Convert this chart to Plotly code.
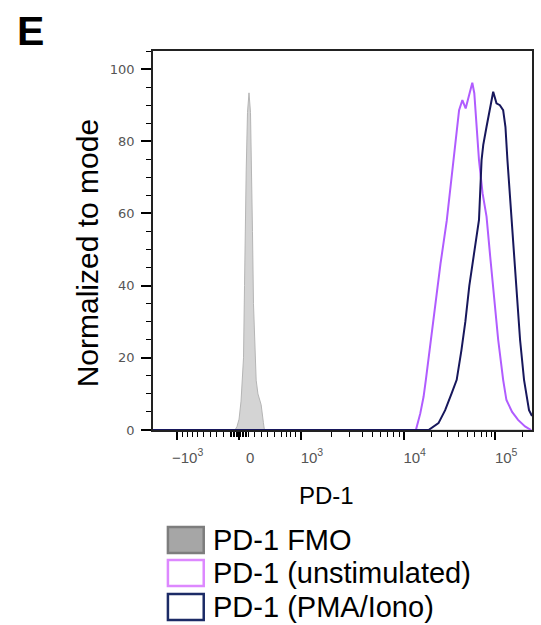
import plotly.graph_objects as go

# ---- data (x in display-channel units of the biexponential PD-1 axis, 0 = zero intensity) ----
SERIES_NAMES = ["PD-1 FMO", "PD-1 (unstimulated)", "PD-1 (PMA/Iono)"]

FMO_X = [-86.5, -4, -2, 0, 2, 3.5, 4.5, 5.5, 6.5, 7.2, 8.5, 10, 11.5, 12.8, 13.5, 14.5, 16, 17.2, 19, 22.2, 24.5, 25.5, 294.5]
FMO_Y = [0, 0, 1, 3, 8, 13.8, 20, 40, 62, 72, 88, 93.4, 88, 72, 55, 35, 20, 13.8, 10, 7, 2, 0, 0]

UNSTIM_X = [-86.5, 177.8, 182.2, 185.5, 187.8, 192.5, 197.5, 202.5, 208.8, 212.5, 215.5, 218.8, 221.2,
            224.5, 227.8, 231.5, 234.5, 236.5, 238.8, 241.2, 244.8, 248.8, 252.5, 256.5, 260.5,
            265.5, 268.8, 274.5, 280.5, 287.5, 293.5]
UNSTIM_Y = [0, 0, 4.6, 9.2, 13.9, 24, 36, 46, 58, 67, 74.8, 84, 88.6,
            91.4, 89.1, 93, 96.2, 93.3, 84, 74.8, 65.6, 59.1, 48, 36, 25,
            13.9, 8.3, 5, 2.8, 1, 0]

PMA_X = [-86.5, 190.5, 200.5, 207.2, 213.8, 218.8, 223.5, 227.5, 231.5, 235.5, 238.5, 241.2, 243.8,
         245.5, 248.8, 252.2, 255.5, 258.8, 262.2, 265.5, 267.8, 269.8, 272.2, 273.8, 276.5,
         279.5, 282.5, 286.5, 289.5, 291.5, 294.5]
PMA_Y = [0, 0, 1.9, 5.5, 10.2, 13.9, 22, 30, 40, 48, 53, 58.2, 74.8,
         79, 84, 88.6, 93.7, 90.5, 90, 88.6, 84, 74.8, 65.6, 58.2, 48,
         36, 25, 13.9, 8.9, 5.5, 3.9]

X_TICK_POS = [-62.8, 0, 62.2, 165.5, 257.5]
X_TICK_TEXT = ["\u221210<sup>3</sup>", "0", "10<sup>3</sup>", "10<sup>4</sup>", "10<sup>5</sup>"]
X_MINOR_POS = ([-57.2, -52.2, -47.2, -42.2, -35.5, -28.8, -22.2, -15.5]
               + [-9, -7.5, -6, -4.5, -3, -1.5, 0, 1.5, 3, 4.5, 6, 7.5, 9]
               + [15.5, 22.2, 28.8, 35.5, 42.2, 47.2, 52.2, 57.2]
               + [93.3, 111.5, 124.4, 134.4, 142.6, 149.5, 155.5, 160.8]
               + [193.2, 209.4, 220.9, 229.8, 237.1, 243.3, 248.6, 253.3]
               + [285.2])
X_RANGE = [-86.5, 294.5]

Y_TICKS = [0, 20, 40, 60, 80, 100]
Y_RANGE = [0, 105]

COLORS = {"fmo_fill": "#d4d4d4", "fmo_line": "#b5b5b5", "unstim": "#b05cff", "pma": "#17175c"}

W, H = 541, 625
ML, MR, MT, MB = 153, 7, 51, 195
PW, PH = W - ML - MR, H - MT - MB


def px(xp):
    return (xp - ML) / PW


def py(yp):
    return (H - MB - yp) / PH


fig = go.Figure()
fig.add_trace(go.Scatter(x=FMO_X, y=FMO_Y, mode="lines", fill="tozeroy",
                         fillcolor=COLORS["fmo_fill"],
                         line=dict(color=COLORS["fmo_line"], width=1), showlegend=False))
fig.add_trace(go.Scatter(x=UNSTIM_X, y=UNSTIM_Y, mode="lines",
                         line=dict(color=COLORS["unstim"], width=2), showlegend=False))
fig.add_trace(go.Scatter(x=PMA_X, y=PMA_Y, mode="lines",
                         line=dict(color=COLORS["pma"], width=2), showlegend=False))

fig.update_layout(
    width=W, height=H, autosize=False,
    margin=dict(l=ML, r=MR, t=MT, b=MB),
    paper_bgcolor="white", plot_bgcolor="white",
    font=dict(family="Liberation Sans, Arial, sans-serif", color="black"),
    xaxis=dict(range=X_RANGE, tickmode="array", tickvals=X_TICK_POS, ticktext=X_TICK_TEXT,
               ticks="outside", ticklen=8, tickwidth=2, tickcolor="black",
               showline=True, linecolor="#222", linewidth=1.5, mirror=True,
               showgrid=False, zeroline=False, layer="below traces",
               tickfont=dict(family="Liberation Sans, Arial, sans-serif", size=15, color="#555"),
               ticklabelshift=11, ticklabelstandoff=5,
               minor=dict(tickmode="array", tickvals=X_MINOR_POS, ticks="outside",
                          ticklen=5, tickwidth=1, tickcolor="black")),
    yaxis=dict(range=Y_RANGE, tickmode="array", tickvals=Y_TICKS,
               ticks="outside", ticklen=10, tickwidth=2, tickcolor="black",
               showline=True, linecolor="#222", linewidth=1.5, mirror=True,
               showgrid=False, zeroline=False, layer="below traces",
               tickfont=dict(family="DejaVu Sans, sans-serif", size=13, color="#555"),
               ticklabelstandoff=4,
               minor=dict(dtick=5, ticks="outside", ticklen=5, tickwidth=1, tickcolor="black")),
)

ann = []
ann.append(dict(text="<b>E</b>", x=px(14), y=py(6), xref="paper", yref="paper",
                xanchor="left", yanchor="top", showarrow=False,
                font=dict(size=41, color="black", family="Liberation Sans, Arial")))
ann.append(dict(text="Normalized to mode", x=px(87), y=py(253), xref="paper", yref="paper",
                xanchor="center", yanchor="middle", textangle=-90, showarrow=False,
                font=dict(size=30, color="black")))
ann.append(dict(text="PD-1", x=px(327), y=py(495), xref="paper", yref="paper",
                xanchor="center", yanchor="middle", showarrow=False,
                font=dict(size=24, color="black")))

legend_rows = [540, 573, 607]
legend_box = [
    dict(fill="#a6a6a6", line="#7d7d7d"),
    dict(fill="white", line="#dd88ff"),
    dict(fill="white", line="#1c2b66"),
]
shapes = []
for name, yc, st in zip(SERIES_NAMES, legend_rows, legend_box):
    shapes.append(dict(type="rect", xref="paper", yref="paper",
                       x0=px(168), x1=px(204), y0=py(yc - 13), y1=py(yc + 13),
                       fillcolor=st["fill"], line=dict(color=st["line"], width=2.5)))
    ann.append(dict(text=name, x=px(211), y=py(yc), xref="paper", yref="paper",
                    xanchor="left", yanchor="middle", showarrow=False,
                    font=dict(size=29, color="black")))

fig.update_layout(annotations=ann, shapes=shapes)
fig.write_html("out.html", config={"displayModeBar": False},
               post_script="document.body.style.margin='0';document.body.style.overflow='hidden';")
